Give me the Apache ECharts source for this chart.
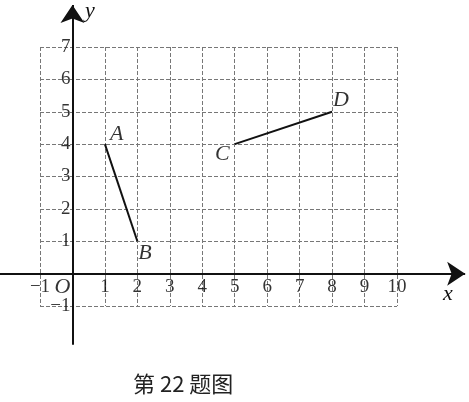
<!DOCTYPE html><html><head><meta charset="utf-8">
<script src="https://cdn.jsdelivr.net/npm/echarts@6/dist/echarts.min.js"></script>
<style>html,body{margin:0;background:#fff}#c{width:469px;height:402px}</style></head><body><div id="c"></div>
<script>
const segAB = [[1,4],[2,1]];
const segCD = [[5,4],[8,5]];
const pointNames = ['A','B','C','D'];
const xTicks = [-1,1,2,3,4,5,6,7,8,9,10];
const yTicks = [-1,1,2,3,4,5,6,7];
const xAxisEnds = [-2.25,12.1];
const yAxisEnds = [-2.2,8.3];
const F = '"Liberation Serif", "DejaVu Serif", serif';
const chart = echarts.init(document.getElementById('c'));
const lbl = (pos) => ({show:true,formatter:p=>p.name,position:pos,fontFamily:F,fontStyle:'italic',fontSize:22,color:'#000'});
const fmt = v=>v<0?'−'+(-v):String(v);
const tickLbl = {show:true,fontFamily:F,fontSize:19,color:'#000',formatter:p=>fmt(p.name*1)};
chart.setOption({
  animation:false,
  title:{text:'第 22 题图',left:128,top:368,textStyle:{fontFamily:'"Noto Sans CJK SC"',fontWeight:'normal',fontSize:22,color:'#222'}},
  grid:{left:40,right:72,top:47,bottom:96},
  xAxis:{type:'value',min:-1,max:10,interval:1,axisLine:{show:false},axisTick:{show:false},axisLabel:{show:false},
    splitLine:{show:true,lineStyle:{type:'dashed',color:'#777',width:1}}},
  yAxis:{type:'value',min:-1,max:7,interval:1,axisLine:{show:false},axisTick:{show:false},axisLabel:{show:false},
    splitLine:{show:true,lineStyle:{type:'dashed',color:'#777',width:1}}},
  series:[
    {type:'lines',coordinateSystem:'cartesian2d',clip:false,z:4,symbol:['none','arrow'],symbolSize:[12,18],
     lineStyle:{color:'#111',width:2,opacity:1},
     data:[{coords:[[xAxisEnds[0],0],[xAxisEnds[1],0]]},{coords:[[0,yAxisEnds[0]],[0,yAxisEnds[1]]]}]},
    {type:'line',data:segAB,symbol:'none',lineStyle:{color:'#111',width:2},z:5},
    {type:'line',data:segCD,symbol:'none',lineStyle:{color:'#111',width:2},z:5},
    {type:'scatter',symbolSize:0,z:6,clip:false,data:[
      {name:pointNames[0],value:segAB[0],label:Object.assign(lbl('right'),{offset:[0,-10]})},
      {name:pointNames[1],value:segAB[1],label:Object.assign(lbl('right'),{offset:[-4,12]})},
      {name:pointNames[2],value:segCD[0],label:Object.assign(lbl('left'),{offset:[0,10]})},
      {name:pointNames[3],value:segCD[1],label:Object.assign(lbl('right'),{offset:[-4,-12]})},
      {name:'O',value:[0,0],label:Object.assign(lbl('bottom'),{offset:[-10,-2]})}
    ]},
    {type:'scatter',symbolSize:0,z:6,clip:false,
     data:xTicks.map(v=>({name:String(v),value:[v,0]})),
     label:Object.assign({},tickLbl,{position:'bottom',distance:4})},
    {type:'scatter',symbolSize:0,z:6,clip:false,
     data:yTicks.map(v=>({name:String(v),value:[0,v]})),
     label:Object.assign({},tickLbl,{position:'left',distance:2})}
  ],
  graphic:[
    {type:'text',left:443,top:283,style:{text:'x',font:'italic 22px '+F,fill:'#111'}},
    {type:'text',left:85,top:0,style:{text:'y',font:'italic 22px '+F,fill:'#111'}}
  ]
});
</script></body></html>
